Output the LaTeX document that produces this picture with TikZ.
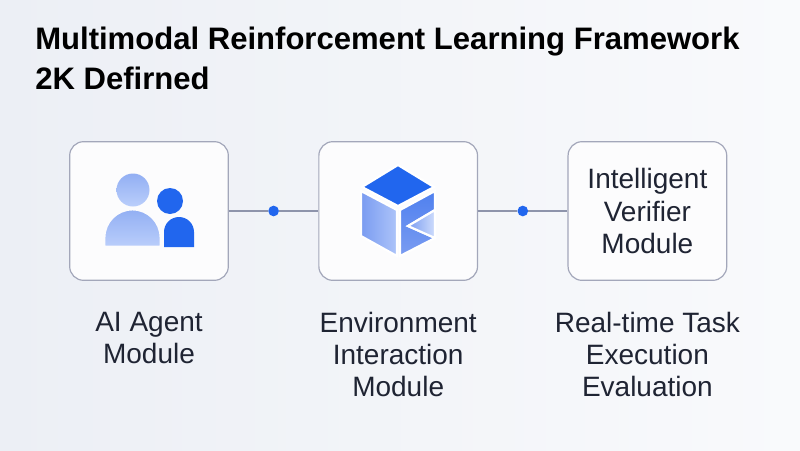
\documentclass[tikz,border=0pt]{standalone}
\usepackage{fontspec}
\setmainfont{Liberation Sans}
\usetikzlibrary{positioning}
\definecolor{bgL}{HTML}{ECEFF5}
\definecolor{bgR}{HTML}{F9FAFC}
\definecolor{boxfill}{HTML}{FCFCFD}
\definecolor{boxline}{HTML}{A3A7BA}
\definecolor{linkline}{HTML}{8E94AB}
\definecolor{txt}{HTML}{1F2433}
\definecolor{accent}{HTML}{2166EE}
\definecolor{paleA}{HTML}{92AFF3}
\definecolor{paleB}{HTML}{BACEFB}
\definecolor{cubeL}{HTML}{7A9CF1}
\definecolor{cubeR}{HTML}{4F80EF}

\begin{document}
\begin{tikzpicture}[x=0.75pt,y=-0.75pt,
    module/.style={draw=boxline,line width=0.9pt,fill=boxfill,rounded corners=10.5pt,
        minimum width=119pt,minimum height=104pt,inner sep=0pt,align=center,
        text=txt,font=\fontsize{21}{24.5}\selectfont},
    caption/.style={align=center,inner sep=0pt,text=txt,anchor=north,
        font=\fontsize{21}{24}\selectfont},
    link/.style={draw=linkline,line width=0.8pt},
    dot/.style={circle,fill=accent,inner sep=0pt,minimum size=8pt}]

    \useasboundingbox (0,0) rectangle (800,450);
    \shade[left color=bgL,right color=bgR] (0,0) rectangle (800,450);

    % title
    \node[anchor=north west,inner sep=0pt,align=left,text=black,
        font=\fontsize{23.3}{30}\bfseries] (title) at (35,27)
        {Multimodal Reinforcement Learning Framework\\2K Defirned};

    % the three modules
    \node[module] (agent) at (149,211) {};
    \node[module] (env) [right=67pt of agent] {};
    \node[module] (verif) [right=67pt of env] {Intelligent\\Verifier\\Module};

    \path (agent) -- node[dot] (d1) {} (env);
    \path (env) -- node[dot] (d2) {} (verif);
    \draw[link] (agent) -- (d1) -- (env);
    \draw[link] (env) -- (d2) -- (verif);

    \node[caption] (capA) [below=23.5pt of agent] {AI Agent\\Module};
    \node[caption] (capE) [below=23.5pt of env] {Environment\\Interaction\\Module};
    \node[caption] (capV) [below=23.5pt of verif] {Real-time Task\\Execution\\Evaluation};

    % agent icon
    \fill[accent] (170,201) circle (13);
    \fill[accent] (164,247) -- (164,232) arc (180:360:15) -- (194,247) -- cycle;
    \shade[top color=paleA,bottom color=paleB] (133,190) circle (16.5);
    \filldraw[draw=boxfill,line width=2.2pt,top color=paleA,bottom color=paleB]
        (104,247) -- (104,237.5) arc (180:360:28.5) -- (161,247) -- cycle;

    % cube icon
    \filldraw[draw=white,line width=1.6pt,fill=accent]
        (398,165) -- (434,187) -- (398,206) -- (362,187) -- cycle;
    \filldraw[draw=white,line width=1.6pt,left color=cubeL,right color=paleB!80!cubeL]
        (361,191) -- (397,210) -- (397,256) -- (361,236) -- cycle;
    \filldraw[draw=white,line width=1.6pt,top color=cubeR,bottom color=cubeL]
        (400,210) -- (435,191) -- (435,210) -- (408,226) -- (435,238) -- (400,256) -- cycle;
    \filldraw[draw=white,line width=1.6pt,left color=cubeL,right color=paleB!70]
        (435,210) -- (408,226) -- (435,238) -- cycle;
\end{tikzpicture}
\end{document}
